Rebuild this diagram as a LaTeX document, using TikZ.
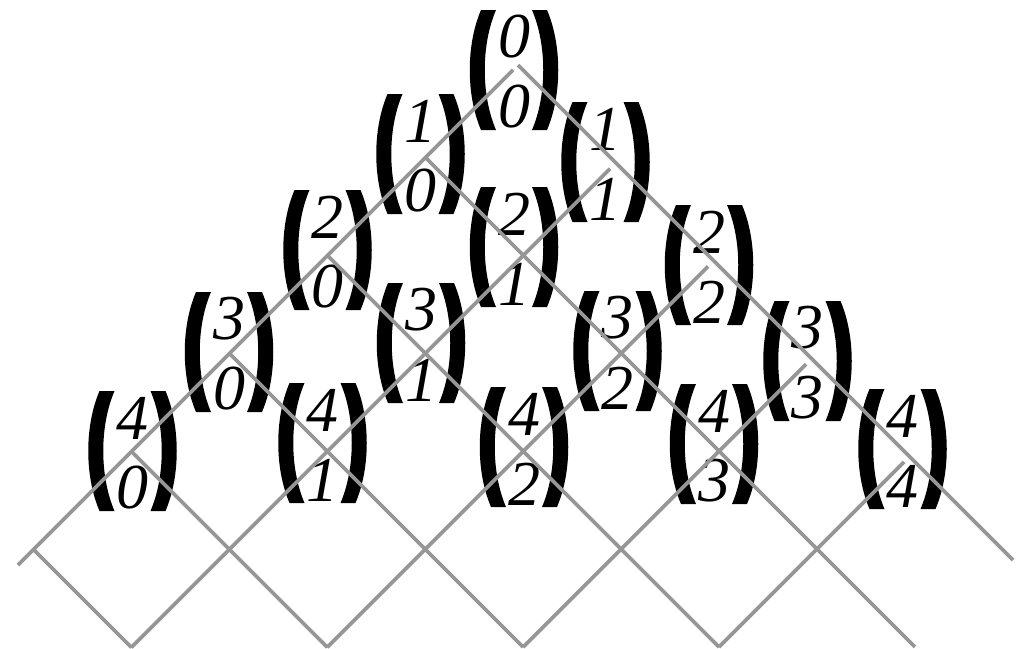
\documentclass[tikz,border=0pt]{standalone}
\usepackage{fontspec}
\newfontfamily\digfont{Liberation Serif Italic}
\definecolor{latgray}{RGB}{150,150,150}
\tikzset{
  digit/.style={font=\digfont\fontsize{64}{64}\selectfont, inner sep=0pt, anchor=center},
  parenfill/.style={fill=black},
  lattice/.style={draw=latgray, line width=3.8pt, line cap=butt}
}
\newcommand{\bnm}[5]{%
  \begin{scope}[shift={(#2,#3)}]
    \fill[parenfill] (-33,-60) .. controls (-48,-25) and (-48,25) .. (-33,60)
      -- (-18,60) .. controls (-33,25) and (-33,-25) .. (-18,-60) -- cycle;
    \fill[parenfill] (33,-60) .. controls (48,-25) and (48,25) .. (33,60)
      -- (18,60) .. controls (33,25) and (33,-25) .. (18,-60) -- cycle;
    \node[digit] (#1t) at (0,-33) {#4};
    \node[digit] (#1b) at (0,37) {#5};
  \end{scope}}
\begin{document}
\begin{tikzpicture}[x=1pt,y=-1pt]
\useasboundingbox (0,0) rectangle (1020,648);
% binomial coefficients
\bnm{a00}{514}{70}{0}{0}
\bnm{a10}{420.5}{154}{1}{0}
\bnm{a11}{605.5}{162}{1}{1}
\bnm{a20}{327.5}{250}{2}{0}
\bnm{a21}{514}{247}{2}{1}
\bnm{a22}{709}{265}{2}{2}
\bnm{a30}{229}{352}{3}{0}
\bnm{a31}{421}{343}{3}{1}
\bnm{a32}{617.5}{351}{3}{2}
\bnm{a33}{807.5}{361}{3}{3}
\bnm{a40}{132.5}{451}{4}{0}
\bnm{a41}{322.5}{443}{4}{1}
\bnm{a42}{524}{447}{4}{2}
\bnm{a43}{714}{444}{4}{3}
\bnm{a44}{902.5}{449}{4}{4}
% lattice points
\coordinate (s0) at (513,70);
\coordinate (s1) at (610,168.75);
\coordinate (s2) at (708,266.5);
\coordinate (s3) at (806,364.25);
\coordinate (s4) at (904,462);
\coordinate (e0) at (18,565);
\coordinate (t0) at (518,65);
\coordinate (u0) at (1013,560);
\coordinate (t1) at (425.5,157.5);
\coordinate (t2) at (327.5,255.5);
\coordinate (t3) at (229.5,353.5);
\coordinate (t4) at (131.5,451.5);
\coordinate (t5) at (33.5,549.5);
\coordinate (b1) at (914.9,646.9);
\coordinate (b2) at (719,647);
\coordinate (b3) at (523.1,647.1);
\coordinate (b4) at (327.25,647.25);
\coordinate (b5) at (131.4,647.4);
% lines going down-left
\draw[lattice] (s0) -- (e0);
\draw[lattice] (s1) -- (b5);
\draw[lattice] (s2) -- (b4);
\draw[lattice] (s3) -- (b3);
\draw[lattice] (s4) -- (b2);
% lines going down-right
\draw[lattice] (t0) -- (u0);
\draw[lattice] (t1) -- (b1);
\draw[lattice] (t2) -- (b2);
\draw[lattice] (t3) -- (b3);
\draw[lattice] (t4) -- (b4);
\draw[lattice] (t5) -- (b5);
\end{tikzpicture}
\end{document}
